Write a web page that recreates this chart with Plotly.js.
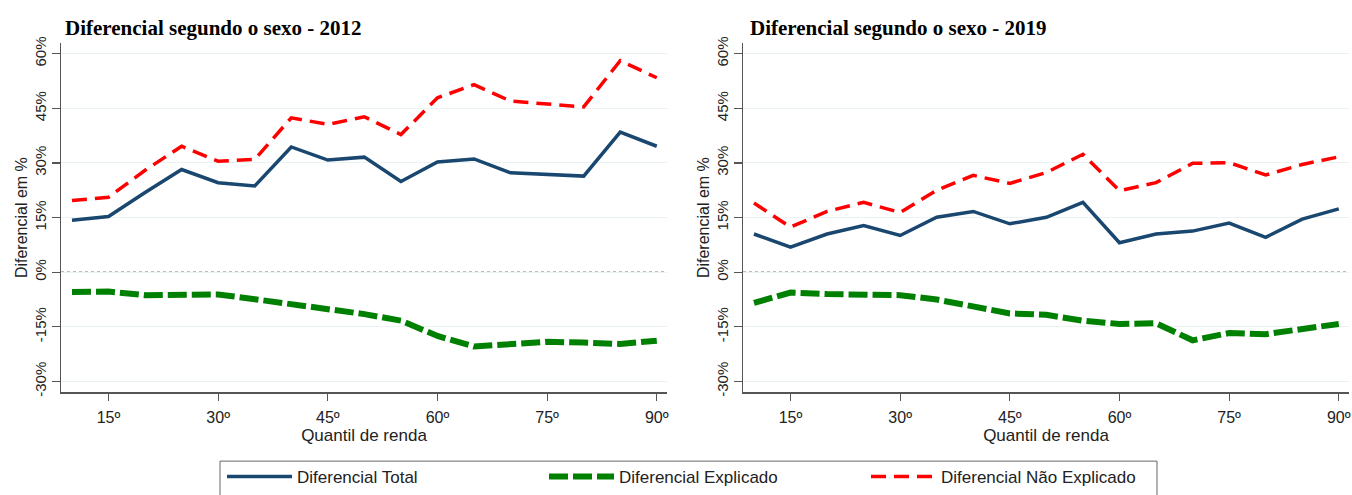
<!DOCTYPE html>
<html>
<head>
<meta charset="utf-8">
<script src="https://cdn.plot.ly/plotly-3.0.1.min.js"></script>
<style>html,body{margin:0;padding:0;background:#fff;}#chart{width:1352px;height:495px;}</style>
</head>
<body>
<div id="chart"></div>
<script>
// Data
const quantis = [10,15,20,25,30,35,40,45,50,55,60,65,70,75,80,85,90];
const total2012 = [14.3,15.3,21.9,28.2,24.6,23.7,34.4,30.8,31.6,24.9,30.3,31.1,27.3,26.9,26.4,38.5,34.6];
const explicado2012 = [-5.4,-5.3,-6.3,-6.3,-6.1,-7.4,-8.8,-10.0,-11.5,-13.3,-17.5,-20.4,-19.6,-19.1,-19.3,-19.7,-18.8];
const naoExplicado2012 = [19.7,20.6,28.0,34.6,30.5,31.0,42.4,40.6,42.7,37.8,47.9,51.5,47.0,46.1,45.4,58.1,53.4];
const total2019 = [10.5,6.9,10.5,12.8,10.1,15.1,16.7,13.3,15.1,19.2,8.1,10.5,11.3,13.5,9.6,14.6,17.4];
const explicado2019 = [-8.4,-5.6,-6.0,-6.3,-6.3,-7.5,-9.6,-11.3,-11.7,-13.3,-14.2,-14.0,-18.7,-16.7,-17.0,-15.4,-14.2];
const naoExplicado2019 = [19.0,12.4,16.7,19.2,16.4,22.5,26.6,24.4,27.4,32.4,22.4,24.6,29.9,30.1,26.7,29.6,31.7];
const yTickVals = [-30,-15,0,15,30,45,60];
const yTickText = ['-30%','-15%','0%','15%','30%','45%','60%'];
const xTickVals = [15,30,45,60,75,90];
const xTickText = ['15º','30º','45º','60º','75º','90º'];
const titles = ['Diferencial segundo o sexo - 2012','Diferencial segundo o sexo - 2019'];
const seriesNames = ['Diferencial Total','Diferencial Explicado','Diferencial Não Explicado'];

const W = 1352, H = 495;
const blue = '#1a476f', green = '#008000', red = '#ff0000';

function mk(xa, ya, y, idx, show){
  const styles = [
    {color: blue, width: 3.5, dash: 'solid'},
    {color: green, width: 6, dash: '19px,5px'},
    {color: red, width: 3.5, dash: '15px,8px'}
  ];
  return {x: quantis, y: y, xaxis: xa, yaxis: ya, type: 'scatter', mode: 'lines',
    name: seriesNames[idx], line: styles[idx], showlegend: show, hoverinfo: 'skip'};
}

const data = [
  mk('x','y', total2012, 0, true),
  mk('x','y', explicado2012, 1, true),
  mk('x','y', naoExplicado2012, 2, true),
  mk('x2','y2', total2019, 0, false),
  mk('x2','y2', explicado2019, 1, false),
  mk('x2','y2', naoExplicado2019, 2, false)
];

const fam = 'Liberation Sans, Arial, sans-serif';
const txt = '#222';
function xax(dom, anchor){
  return {domain: dom, anchor: anchor, range: [8.5, 91.4], tickvals: xTickVals, ticktext: xTickText,
    showgrid: false, zeroline: false, showline: true, linecolor: '#555', linewidth: 1.5,
    ticks: 'outside', ticklen: 7, tickcolor: '#555', tickwidth: 1.2, ticklabelstandoff: 3,
    tickfont: {family: fam, size: 16, color: txt},
    title: {text: 'Quantil de renda', font: {family: fam, size: 17, color: txt}, standoff: 2},
    automargin: false, fixedrange: true};
}
function yax(anchor){
  return {domain: [1-394/H, 1-43/H], anchor: anchor, range: [-33, 63], tickvals: yTickVals, ticktext: yTickText,
    showgrid: true, gridcolor: '#eaf2f3', gridwidth: 1, zeroline: false, showline: true, linecolor: '#555', linewidth: 1.5,
    ticks: 'outside', ticklen: 8, tickcolor: '#555', tickwidth: 1.2, tickangle: -90,
    tickfont: {family: fam, size: 15, color: txt},
    title: {text: 'Diferencial em %', font: {family: fam, size: 16, color: txt}, standoff: 0},
    automargin: false, fixedrange: true};
}

const layout = {
  width: W, height: H,
  margin: {l: 0, r: 0, t: 0, b: 0},
  paper_bgcolor: '#fff', plot_bgcolor: '#fff',
  xaxis: xax([61/W, 667/W], 'y'),
  yaxis: yax('x'),
  xaxis2: xax([743/W, 1349/W], 'y2'),
  yaxis2: yax('x2'),
  showlegend: true,
  legend: {orientation: 'h', x: 222/W, xanchor: 'left', y: 1-461/H, yanchor: 'top',
    borderwidth: 0, bgcolor: 'rgba(0,0,0,0)', font: {family: fam, size: 17, color: txt},
    itemwidth: 65, entrywidth: 242, entrywidthmode: 'pixels', tracegroupgap: 0},
  shapes: [
    {type: 'line', xref: 'x domain', yref: 'y', x0: 0, x1: 1, y0: 0, y1: 0, line: {color: '#000', width: 1, dash: 'dot'}, layer: 'below'},
    {type: 'line', xref: 'x2 domain', yref: 'y2', x0: 0, x1: 1, y0: 0, y1: 0, line: {color: '#000', width: 1, dash: 'dot'}, layer: 'below'},
    {type: 'rect', xref: 'paper', yref: 'paper', x0: 220/W, x1: 1157/W, y0: -0.05, y1: 1-463/H, line: {color: '#666', width: 1}, fillcolor: 'rgba(0,0,0,0)', layer: 'above'}
  ],
  annotations: [
    {text: '<b>' + titles[0] + '</b>', xref: 'paper', yref: 'paper', x: 63/W, y: 1-28/H, xanchor: 'left', yanchor: 'middle', showarrow: false,
      font: {family: 'Liberation Serif, Times New Roman, serif', size: 21, color: '#000'}},
    {text: '<b>' + titles[1] + '</b>', xref: 'paper', yref: 'paper', x: 748/W, y: 1-28/H, xanchor: 'left', yanchor: 'middle', showarrow: false,
      font: {family: 'Liberation Serif, Times New Roman, serif', size: 21, color: '#000'}}
  ]
};

Plotly.newPlot('chart', data, layout, {displayModeBar: false, staticPlot: true});
</script>
</body>
</html>
